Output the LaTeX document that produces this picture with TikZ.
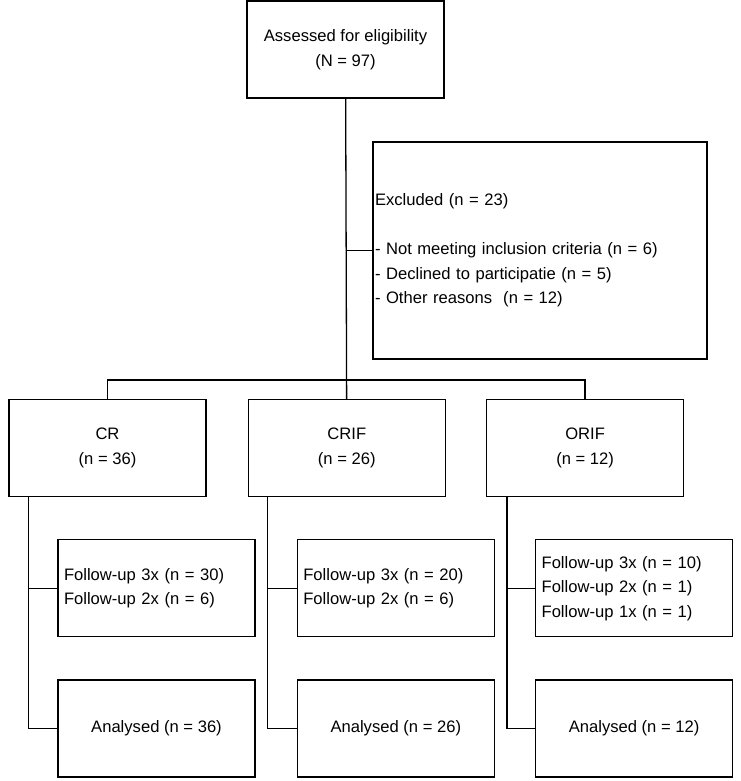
\documentclass[tikz,border=0pt]{standalone}
\usepackage{fontspec}
\setmainfont{Liberation Sans}
\usepackage{tikz}
\usetikzlibrary{positioning}

\begin{document}
\begin{tikzpicture}[
        x=1pt, y=-1pt,
        font=\fontsize{16.6}{24.5}\selectfont,
        block/.style={rectangle, draw, line width=1.3pt, minimum width=197pt, minimum height=97pt, align=center, inner sep=2pt},
        listbox/.style={block, align=left, text width=185pt, inner xsep=6pt},
        exclbox/.style={block, align=left, text width=330pt, inner xsep=2pt, minimum height=217pt},
        line/.style={line width=1.3pt},
    ]
    \useasboundingbox (0,0) rectangle (740,781);

    % === ENROLMENT ===
    \node[block] (assess) at (345.5,49.5) {Assessed for eligibility\\(N = 97)};
    \node[exclbox] (excl) at (540,250.5) {Excluded (n = 23)\\[24.5pt]
        - Not meeting inclusion criteria (n = 6)\\
        - Declined to participatie (n = 5)\\
        - Other reasons\ \ (n = 12)};

    % === ALLOCATION ===
    \node[block] (cr) at (107.5,448) {CR\\(n = 36)};
    \node[block, right=41pt of cr] (crif) {CRIF\\(n = 26)};
    \node[block, right=40pt of crif] (orif) {ORIF\\(n = 12)};

    % === FOLLOW-UP ===
    \node[listbox, below=42pt of cr, xshift=49pt] (crfu) {Follow-up 3x (n = 30)\\Follow-up 2x (n = 6)};
    \node[listbox, below=42pt of crif, xshift=49pt] (criffu) {Follow-up 3x (n = 20)\\Follow-up 2x (n = 6)};
    \node[listbox, below=42pt of orif, xshift=49pt] (oriffu) {Follow-up 3x (n = 10)\\Follow-up 2x (n = 1)\\Follow-up 1x (n = 1)};

    % === ANALYSIS ===
    \node[block, below=42pt of crfu] (cran) {Analysed (n = 36)};
    \node[block, below=42pt of criffu] (crifan) {Analysed (n = 26)};
    \node[block, below=42pt of oriffu] (orifan) {Analysed (n = 12)};

    % === CONNECTORS ===
    \draw[line] (assess) -- (crif);
    \draw[line] (excl.west) -- (excl.west -| assess.south);
    \draw[line] (cr.north) -- ++(0,-19) -| (orif.north);

    \coordinate (crdown) at ([xshift=20pt]cr.south west);
    \coordinate (crifdown) at ([xshift=20pt]crif.south west);
    \coordinate (orifdown) at ([xshift=21pt]orif.south west);

    \draw[line] (crdown) |- (cran.west);
    \draw[line] (crfu.west) -- (crfu.west -| crdown);
    \draw[line] (crifdown) |- (crifan.west);
    \draw[line] (criffu.west) -- (criffu.west -| crifdown);
    \draw[line] (orifdown) |- (orifan.west);
    \draw[line] (oriffu.west) -- (oriffu.west -| orifdown);

\end{tikzpicture}
\end{document}
